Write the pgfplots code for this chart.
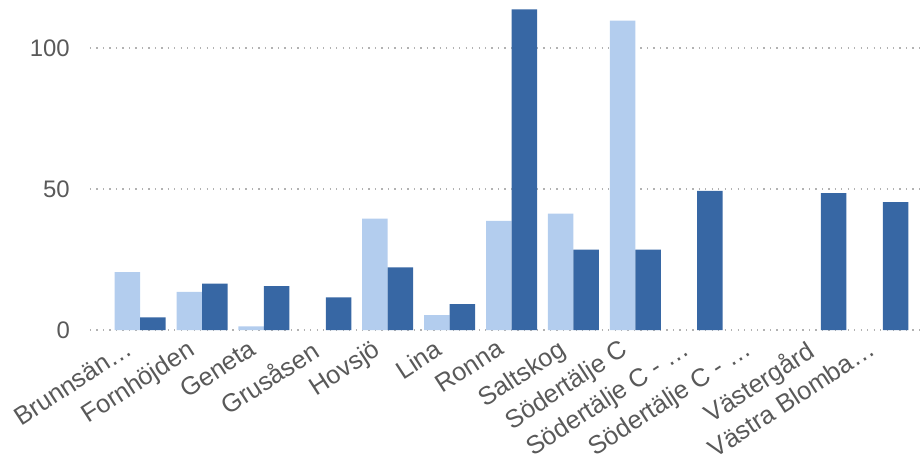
\documentclass[border=0pt]{standalone}
\usepackage{pgfplots}
\pgfplotsset{compat=1.18}
\usepackage{fontspec}
\setmainfont{Liberation Sans}
\definecolor{lightbar}{HTML}{B3CDEE}
\definecolor{darkbar}{HTML}{3767A4}
\definecolor{txt}{HTML}{595959}
\begin{document}
\begin{tikzpicture}
\begin{axis}[
  name=ax,
  scale only axis,
  width=830bp, height=330bp,
  ybar=0pt, bar width=25.5bp,
  xmin=-0.81, xmax=12.6,
  ymin=0, ymax=117,
  axis line style={draw=none},
  major tick style={draw=none},
  ytick={0,50,100},
  ymajorgrids,
  grid style={gray!60, line width=1.3pt, dash pattern=on 1.3pt off 5.2pt},
  xtick={0,...,12},
  xticklabels={Brunnsän…,Fornhöjden,Geneta,Grusåsen,Hovsjö,Lina,Ronna,Saltskog,Södertälje C,Södertälje C - …,Södertälje C - …,Västergård,Västra Blomba…},
  /pgf/number format/assume math mode=true,
  tick label style={font=\fontsize{24}{28}\selectfont, text=txt},
  xticklabel style={font=\fontsize{25.5}{28}\selectfont, xshift=-16bp, yshift=-4bp, rotate=33, anchor=north east, inner sep=0pt},
  yticklabel style={inner sep=0pt, xshift=-20bp},
]
\addplot[fill=lightbar, draw=none] coordinates {(0,20.5) (1,13.5) (2,1.3) (4,39.5) (5,5.3) (6,38.7) (7,41.3) (8,109.7)};
\addplot[fill=darkbar, draw=none] coordinates {(0,4.5) (1,16.4) (2,15.6) (3,11.6) (4,22.2) (5,9.2) (6,113.7) (7,28.5) (8,28.5) (9,49.3) (11,48.5) (12,45.3)};
\end{axis}
\pgfresetboundingbox
\path ([xshift=-90bp,yshift=-131bp]ax.south west) rectangle ([xshift=3bp]ax.north east);
\end{tikzpicture}
\end{document}
